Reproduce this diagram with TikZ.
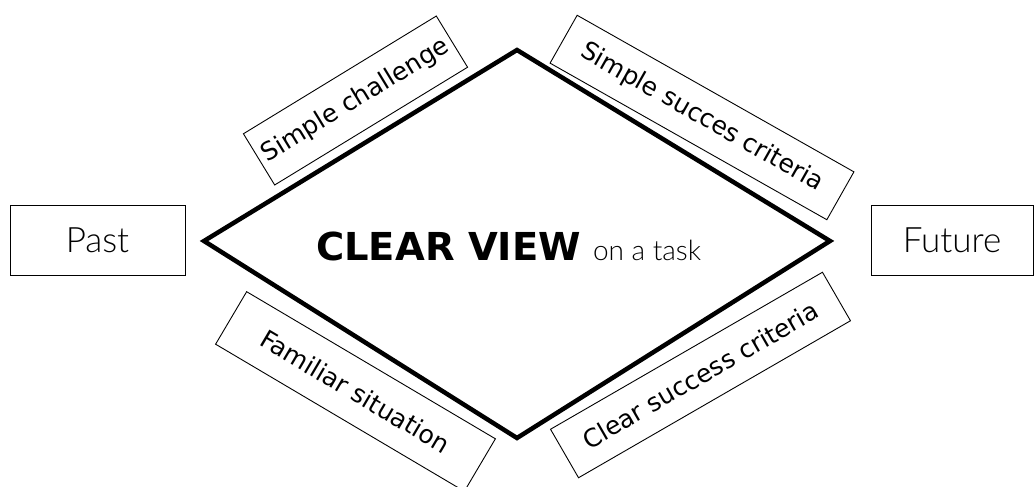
\documentclass[tikz,border=0pt]{standalone}
\usepackage{fontspec}
\setmainfont{DejaVu Sans}
\newfontfamily\thinfont{Lato Light}
\begin{document}
\begin{tikzpicture}[x=1pt,y=-1pt,
  tag/.style={draw,line width=0.9pt,inner sep=0pt,font=\fontsize{25}{28}\selectfont},
  side/.style={draw,line width=0.9pt,inner sep=0pt,font=\thinfont\fontsize{35}{38}\selectfont},
  diam/.style={line width=4.5pt,line join=miter}]
\useasboundingbox (0,0) rectangle (1034,487);
% diamond
\coordinate (L) at (204,241);
\coordinate (T) at (517,50);
\coordinate (R) at (830,241);
\coordinate (B) at (517,438);
\draw[diam] (L) -- (T) -- (R) -- (B) -- cycle;
% side boxes
\node[side,minimum width=175,minimum height=70] (past) at (97.5,240) {Past};
\node[side,minimum width=162,minimum height=70] (future) at (952,240) {Future};
% rotated tags
\node[tag,rotate=31.4,minimum width=226,minimum height=60] (sc) at (355.5,100.5) {Simple challenge};
\node[tag,rotate=-29.5,minimum width=318,minimum height=55] (ssc) at (702,117.5) {Simple succes criteria};
\node[tag,rotate=-30.6,minimum width=289,minimum height=61] (fs) at (355.5,391.5) {Familiar situation};
\node[tag,rotate=30,minimum width=314,minimum height=56] (csc) at (700.5,375) {Clear success criteria};
% center
\node[anchor=base west,inner sep=0pt] (cv) at (316,260)
  {{\fontsize{38.5}{42}\selectfont\bfseries CLEAR VIEW}\hspace{12pt}{\thinfont\fontsize{28}{30}\selectfont on a task}};
\end{tikzpicture}
\end{document}
